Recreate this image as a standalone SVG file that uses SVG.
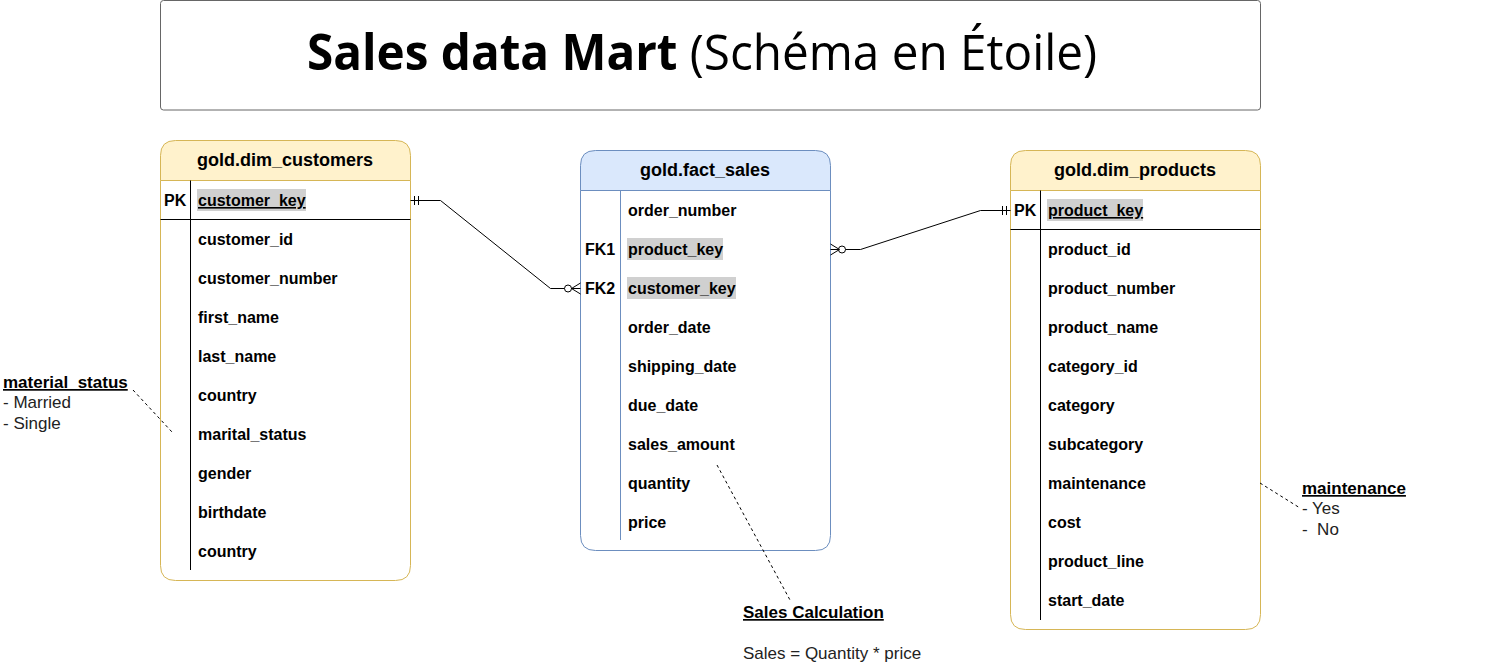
<svg xmlns="http://www.w3.org/2000/svg" width="1500" height="667" viewBox="0 0 1500 667">
<style>
text{font-family:"Liberation Sans",Arial,sans-serif;fill:#000}
.f{font-size:16px;font-weight:bold}
.h{font-size:18px;font-weight:bold}
.a{font-size:17px;fill:#222}
.ab{font-size:17px;font-weight:bold;text-decoration:underline}
.yb{fill:#fff;stroke:#d6b656;stroke-width:1}
.yh{fill:#fff2cc;stroke:#d6b656;stroke-width:1}
.bb{fill:#fff;stroke:#6c8ebf;stroke-width:1}
.bh{fill:#dae8fc;stroke:#6c8ebf;stroke-width:1}
.hl{fill:#d0d0d0}
.ln{stroke:#000;stroke-width:1;fill:none}
.dash{stroke:#000;stroke-width:1;fill:none;stroke-dasharray:3 3}
</style>
<g id="title">
<rect x="160.5" y="0.5" width="1100" height="109.5" rx="3" fill="#fff" stroke="#666"/>
<text x="307" y="70" font-family="'Open Sans',sans-serif" style="font-family:'Open Sans',sans-serif" font-size="50" textLength="790" lengthAdjust="spacingAndGlyphs"><tspan font-weight="bold">Sales data Mart</tspan> (Schéma en Étoile)</text>
</g>
<g id="dim_customers">
<path class="yb" d="M160.5,180.5 V565.5 Q160.5,580.5 175.5,580.5 H395.5 Q410.5,580.5 410.5,565.5 V180.5 Z"/>
<path class="yh" d="M160.5,180.5 V155.5 Q160.5,140.5 175.5,140.5 H395.5 Q410.5,140.5 410.5,155.5 V180.5 Z"/>
<line class="ln" x1="160.5" y1="219.5" x2="410.5" y2="219.5"/>
<line x1="190.5" y1="180.5" x2="190.5" y2="570" stroke="#000"/>
<text class="h" x="285" y="166" text-anchor="middle">gold.dim_customers</text>
<text class="f" x="164" y="206">PK</text>
<rect class="hl" x="197" y="189" width="109" height="22"/>
<text class="f" x="198" y="206" text-decoration="underline">customer_key</text>
<text class="f" x="198" y="245">customer_id</text>
<text class="f" x="198" y="284">customer_number</text>
<text class="f" x="198" y="323">first_name</text>
<text class="f" x="198" y="362">last_name</text>
<text class="f" x="198" y="401">country</text>
<text class="f" x="198" y="440">marital_status</text>
<text class="f" x="198" y="479">gender</text>
<text class="f" x="198" y="518">birthdate</text>
<text class="f" x="198" y="557">country</text>
</g>
<g id="fact_sales">
<path class="bb" d="M580.5,190.5 V535.5 Q580.5,550.5 595.5,550.5 H815.5 Q830.5,550.5 830.5,535.5 V190.5 Z"/>
<path class="bh" d="M580.5,190.5 V165.5 Q580.5,150.5 595.5,150.5 H815.5 Q830.5,150.5 830.5,165.5 V190.5 Z"/>
<line x1="620.5" y1="190.5" x2="620.5" y2="540" stroke="#6c8ebf"/>
<text class="h" x="705" y="176" text-anchor="middle">gold.fact_sales</text>
<text class="f" x="628" y="216">order_number</text>
<text class="f" x="585" y="255">FK1</text>
<rect class="hl" x="627" y="238" width="96" height="22"/>
<text class="f" x="628" y="255">product_key</text>
<text class="f" x="585" y="294">FK2</text>
<rect class="hl" x="627" y="277" width="109" height="22"/>
<text class="f" x="628" y="294">customer_key</text>
<text class="f" x="628" y="333">order_date</text>
<text class="f" x="628" y="372">shipping_date</text>
<text class="f" x="628" y="411">due_date</text>
<text class="f" x="628" y="450">sales_amount</text>
<text class="f" x="628" y="489">quantity</text>
<text class="f" x="628" y="528">price</text>
</g>
<g id="dim_products">
<path class="yb" d="M1010.5,190.5 V614.5 Q1010.5,629.5 1025.5,629.5 H1245.5 Q1260.5,629.5 1260.5,614.5 V190.5 Z"/>
<path class="yh" d="M1010.5,190.5 V165.5 Q1010.5,150.5 1025.5,150.5 H1245.5 Q1260.5,150.5 1260.5,165.5 V190.5 Z"/>
<line class="ln" x1="1010.5" y1="229.5" x2="1260.5" y2="229.5"/>
<line x1="1040.5" y1="190.5" x2="1040.5" y2="620" stroke="#000"/>
<text class="h" x="1135" y="176" text-anchor="middle">gold.dim_products</text>
<text class="f" x="1014" y="216">PK</text>
<rect class="hl" x="1047" y="199" width="96" height="22"/>
<text class="f" x="1048" y="216" text-decoration="underline">product_key</text>
<text class="f" x="1048" y="255">product_id</text>
<text class="f" x="1048" y="294">product_number</text>
<text class="f" x="1048" y="333">product_name</text>
<text class="f" x="1048" y="372">category_id</text>
<text class="f" x="1048" y="411">category</text>
<text class="f" x="1048" y="450">subcategory</text>
<text class="f" x="1048" y="489">maintenance</text>
<text class="f" x="1048" y="528">cost</text>
<text class="f" x="1048" y="567">product_line</text>
<text class="f" x="1048" y="606">start_date</text>
</g>
<g id="connectors">
<polyline class="ln" points="410.5,200.5 440.5,200.5 550.5,288.5 580.5,288.5"/>
<line class="ln" x1="414.5" y1="196" x2="414.5" y2="205"/>
<line class="ln" x1="418.5" y1="196" x2="418.5" y2="205"/>
<circle cx="568" cy="288.5" r="3.5" fill="#fff" stroke="#000"/>
<polyline class="ln" points="580.5,283 571.5,288.5 580.5,294"/>
<polyline class="ln" points="830.5,249.5 860.5,249.5 980.5,210.5 1010.5,210.5"/>
<circle cx="842" cy="249.5" r="3.5" fill="#fff" stroke="#000"/>
<polyline class="ln" points="830.5,244 839.5,249.5 830.5,255"/>
<line class="ln" x1="1002.5" y1="206" x2="1002.5" y2="215"/>
<line class="ln" x1="1006.5" y1="206" x2="1006.5" y2="215"/>
<line class="dash" x1="133" y1="390" x2="172" y2="432"/>
<line class="dash" x1="1260" y1="483" x2="1300" y2="508"/>
<line class="dash" x1="717" y1="465" x2="790" y2="600"/>
</g>
<g id="notes">
<text class="ab" x="3" y="388">material_status</text>
<text class="a" x="3" y="408">- Married</text>
<text class="a" x="3" y="429">- Single</text>
<text class="ab" x="1302" y="494">maintenance</text>
<text class="a" x="1302" y="514">- Yes</text>
<text class="a" x="1302" y="535" xml:space="preserve">-  No</text>
<text class="ab" x="743" y="618">Sales Calculation</text>
<text class="a" x="743" y="659">Sales = Quantity * price</text>
</g>
</svg>
